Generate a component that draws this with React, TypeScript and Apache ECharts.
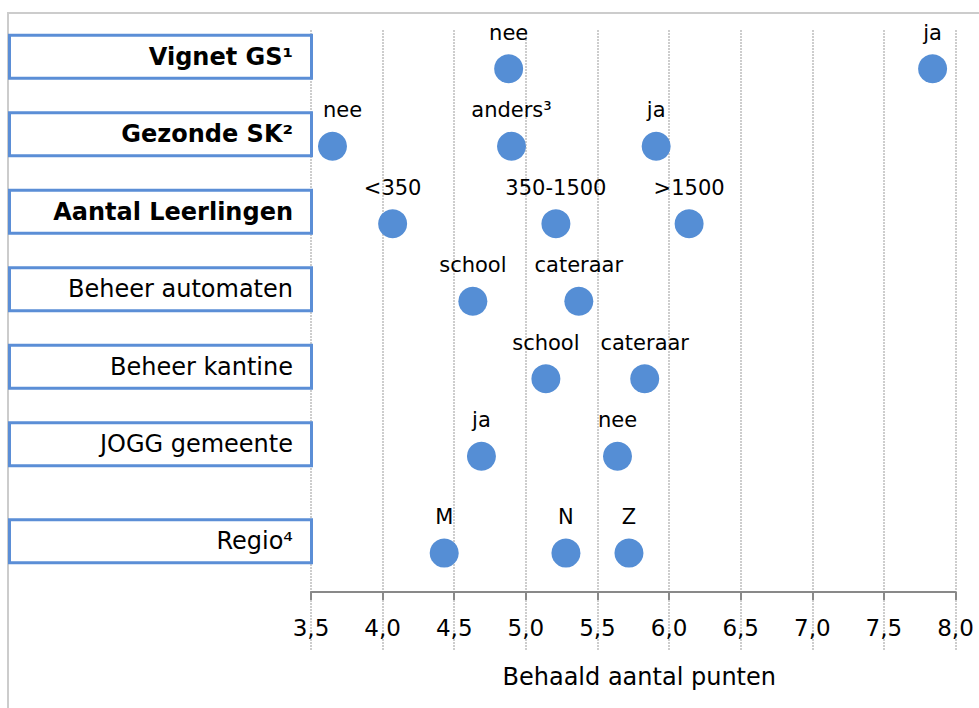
import React, { useEffect, useRef } from "react";
import * as echarts from "echarts";

// ---- data ----
const categories = [
  "Vignet GS¹",
  "Gezonde SK²",
  "Aantal Leerlingen",
  "Beheer automaten",
  "Beheer kantine",
  "JOGG gemeente",
  "Regio⁴",
];
const rowPositions = [0, 1, 2, 3, 4, 5, 6.25];
const boldRows = [true, true, true, false, false, false, false];

const vignetLabels = ["nee", "ja"];
const vignetScores = [4.88, 7.84];
const gezondeLabels = ["nee", "anders³", "ja"];
const gezondeScores = [3.65, 4.9, 5.91];
const leerlingenLabels = ["<350", "350-1500", ">1500"];
const leerlingenScores = [4.07, 5.21, 6.14];
const automatenLabels = ["school", "cateraar"];
const automatenScores = [4.63, 5.37];
const kantineLabels = ["school", "cateraar"];
const kantineScores = [5.14, 5.83];
const joggLabels = ["ja", "nee"];
const joggScores = [4.69, 5.64];
const regioLabels = ["M", "N", "Z"];
const regioScores = [4.43, 5.28, 5.72];

const groupLabels = [
  vignetLabels,
  gezondeLabels,
  leerlingenLabels,
  automatenLabels,
  kantineLabels,
  joggLabels,
  regioLabels,
];
const groupScores = [
  vignetScores,
  gezondeScores,
  leerlingenScores,
  automatenScores,
  kantineScores,
  joggScores,
  regioScores,
];

const xMin = 3.5;
const xMax = 8.0;
const xInterval = 0.5;
const xAxisName = "Behaald aantal punten";

const FONT = '"DejaVu Sans", Verdana, sans-serif';
const DOT = "#558ED5";
const BOX = "#5B8ED6";

export default function App() {
  const ref = useRef<HTMLDivElement>(null);

  useEffect(() => {
    if (!ref.current) return;
    const chart = echarts.init(ref.current, undefined, { renderer: "svg" });

    const points: any[] = [];
    groupScores.forEach((scores, gi) => {
      scores.forEach((s, j) => {
        const item: any = { value: [s, rowPositions[gi], groupLabels[gi][j]] };
        // keep the leftmost label clear of the category box
        if (s < xMin + 0.3) item.label = { offset: [10, 0] };
        points.push(item);
      });
    });

    const boxData = rowPositions.map((r, i) => [xMin, r, i]);

    const option: any = {
      animation: false,
      backgroundColor: "#ffffff",
      graphic: [
        {
          type: "rect",
          silent: true,
          z: -10,
          shape: { x: 8, y: 13, width: 1200, height: 1200 },
          style: { fill: "none", stroke: "#cccccc", lineWidth: 2 },
        },
      ],
      grid: { left: 311, right: 23.5, top: 30, bottom: 58, containLabel: false },
      xAxis: {
        type: "value",
        min: xMin,
        max: xMax,
        interval: xInterval,
        position: "bottom",
        offset: -58,
        name: xAxisName,
        nameLocation: "middle",
        nameGap: 73,
        nameTextStyle: { fontFamily: FONT, fontSize: 24, color: "#000", padding: [0, 0, 0, 12] },
        axisLine: { show: true, onZero: false, lineStyle: { color: "#898989", width: 2 } },
        axisTick: { show: true, length: 8, lineStyle: { color: "#898989", width: 2 } },
        axisLabel: {
          margin: 24,
          fontFamily: FONT,
          fontSize: 23,
          color: "#000",
          formatter: (v: number) => v.toFixed(1).replace(".", ","),
        },
        splitLine: {
          show: true,
          showMinLine: true,
          showMaxLine: true,
          lineStyle: { color: "#bdbdbd", width: 1.5, type: [2, 1] },
        },
      },
      yAxis: {
        type: "value",
        inverse: true,
        min: -0.5,
        max: 7.5,
        show: false,
        splitLine: { show: false },
      },
      series: [
        {
          type: "custom",
          silent: true,
          clip: false,
          z: 3,
          encode: { x: 0, y: 1 },
          data: boxData,
          renderItem: (params: any, api: any) => {
            const idx = api.value(2);
            const pt = api.coord([api.value(0), api.value(1)]);
            const cy = pt[1] - 12;
            const right = pt[0] + 2;
            const left = 8;
            const h = 46;
            return {
              type: "group",
              children: [
                {
                  type: "rect",
                  shape: { x: left + 1.5, y: cy - h / 2 + 1.5, width: right - left - 3, height: h - 3 },
                  style: { fill: "#ffffff", stroke: BOX, lineWidth: 3 },
                },
                {
                  type: "text",
                  style: {
                    text: categories[idx],
                    x: right - 20,
                    y: cy,
                    align: "right",
                    verticalAlign: "middle",
                    fontFamily: FONT,
                    fontSize: 24,
                    fontWeight: boldRows[idx] ? "bold" : "normal",
                    fill: "#000",
                  },
                },
              ],
            };
          },
        },
        {
          type: "scatter",
          z: 4,
          symbol: "circle",
          symbolSize: 29,
          itemStyle: { color: DOT, opacity: 1 },
          data: points,
          label: {
            show: true,
            position: "top",
            distance: 11,
            fontFamily: FONT,
            fontSize: 21,
            color: "#000",
            formatter: (p: any) => p.value[2],
          },
        },
      ],
    };

    chart.setOption(option);
    return () => chart.dispose();
  }, []);

  return (
    <div
      ref={ref}
      style={{ position: "fixed", left: 0, top: 0, width: 979, height: 708, background: "#fff" }}
    />
  );
}
